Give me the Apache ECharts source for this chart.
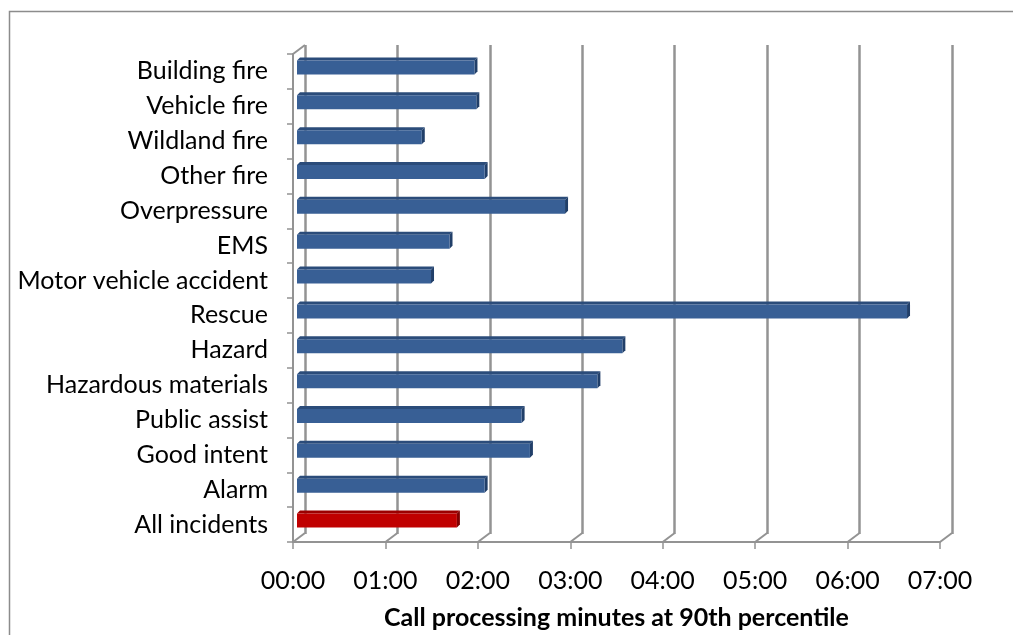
<!DOCTYPE html>
<html>
<head>
<meta charset="utf-8">
<script src="https://cdn.jsdelivr.net/npm/echarts@6/dist/echarts.min.js"></script>
<style>
  html, body { margin: 0; padding: 0; background: #ffffff; }
  #chart { width: 1013px; height: 635px; }
</style>
</head>
<body>
<div id="chart"></div>
<script>
// Incident types, top to bottom
const categories = [
  'Building fire', 'Vehicle fire', 'Wildland fire', 'Other fire', 'Overpressure',
  'EMS', 'Motor vehicle accident', 'Rescue', 'Hazard', 'Hazardous materials',
  'Public assist', 'Good intent', 'Alarm', 'All incidents'
];
// 90th percentile call processing time, in minutes
const minutes = [1.92, 1.94, 1.35, 2.03, 2.90, 1.65, 1.45, 6.60, 3.52, 3.25, 2.43, 2.52, 2.03, 1.73];
// x-axis tick labels (mm:ss)
const tickLabels = ['00:00', '01:00', '02:00', '03:00', '04:00', '05:00', '06:00', '07:00'];
const axisTitle = 'Call processing minutes at 90th percentile';

const FONT = 'Lato, "Open Sans", sans-serif';
const GRID_GRAY = '#939393';
// Depth of the plot box (back wall offset) and of each bar
const DEPTH_X = 12, DEPTH_Y = -9;
const BAR_OFF_X = 4, BAR_OFF_Y = -4, BAR_H = 14, BAR_D = 3;

function barRenderer(front, top, side) {
  return function (params, api) {
    const v = api.value(0), c = api.value(1);
    const p0 = api.coord([0, c]);
    const p1 = api.coord([v, c]);
    const x0 = p0[0] + BAR_OFF_X, x1 = p1[0] + BAR_OFF_X;
    const yT = p0[1] + BAR_OFF_Y - BAR_H / 2, yB = yT + BAR_H;
    return {
      type: 'group',
      children: [
        { type: 'polygon', shape: { points: [[x0, yT], [x1, yT], [x1 + BAR_D, yT - BAR_D], [x0 + BAR_D, yT - BAR_D]] },
          style: { fill: top } },
        { type: 'polygon', shape: { points: [[x1, yT], [x1 + BAR_D, yT - BAR_D], [x1 + BAR_D, yB - BAR_D], [x1, yB]] },
          style: { fill: side } },
        { type: 'rect', shape: { x: x0, y: yT, width: x1 - x0, height: BAR_H },
          style: { fill: front } }
      ]
    };
  };
}

// Floor and wall edges joining the front axes to the back wall
function wallRenderer(params, api) {
  const v = api.value(0);
  const cs = params.coordSys;
  const p = api.coord([v, 0]);
  const yb = cs.y + cs.height;
  const lineStyle = { stroke: GRID_GRAY, lineWidth: 2, fill: null };
  const children = [
    { type: 'line', shape: { x1: p[0], y1: yb, x2: p[0] + DEPTH_X, y2: yb + DEPTH_Y }, style: lineStyle }
  ];
  if (v === 0) {
    children.push({ type: 'line', shape: { x1: cs.x, y1: cs.y, x2: cs.x + DEPTH_X, y2: cs.y + DEPTH_Y }, style: lineStyle });
  }
  return { type: 'group', children: children };
}

const chart = echarts.init(document.getElementById('chart'), null, { renderer: 'canvas' });

const frontGrid = { left: 293, right: 73, top: 54, bottom: 92 };
const backGrid = {
  left: frontGrid.left + DEPTH_X, right: frontGrid.right - DEPTH_X,
  top: frontGrid.top + DEPTH_Y, bottom: frontGrid.bottom - DEPTH_Y
};

chart.setOption({
  animation: false,
  backgroundColor: '#ffffff',
  textStyle: { fontFamily: FONT },
  graphic: [
    { type: 'rect', left: 7, top: 9, shape: { x: 0.5, y: 0.5, width: 1010, height: 640 },
      style: { fill: null, stroke: '#8c8c8c', lineWidth: 1.5 }, silent: true }
  ],
  grid: [
    Object.assign({ containLabel: false }, frontGrid),
    Object.assign({ containLabel: false }, backGrid)
  ],
  xAxis: [
    {
      gridIndex: 0, type: 'value', min: 0, max: 7, interval: 1,
      axisLine: { show: true, lineStyle: { color: GRID_GRAY, width: 2 } },
      axisTick: { show: true, length: 7, lineStyle: { color: GRID_GRAY, width: 1.5 } },
      splitLine: { show: false },
      axisLabel: {
        margin: 26, fontSize: 25, color: '#000', fontFamily: FONT,
        formatter: function (val) { return tickLabels[Math.round(val)]; }
      },
      name: axisTitle, nameLocation: 'middle', nameGap: 63,
      nameTextStyle: { fontSize: 25, fontWeight: 'bold', color: '#000', fontFamily: FONT }
    },
    {
      gridIndex: 1, type: 'value', min: 0, max: 7, interval: 1,
      axisLine: { show: false }, axisTick: { show: false }, axisLabel: { show: false },
      splitLine: { show: true, lineStyle: { color: GRID_GRAY, width: 2.5 } }
    }
  ],
  yAxis: [
    {
      gridIndex: 0, type: 'category', data: categories, inverse: true,
      axisLine: { show: true, lineStyle: { color: GRID_GRAY, width: 2 } },
      axisTick: { show: true, length: 6, lineStyle: { color: GRID_GRAY, width: 1.5 } },
      axisLabel: { margin: 25, fontSize: 25, color: '#000', fontFamily: FONT, padding: [9, 0, 0, 0] },
      splitLine: { show: false }
    },
    {
      gridIndex: 1, type: 'category', data: categories, inverse: true, show: false
    }
  ],
  series: [
    {
      name: 'Walls', type: 'custom', xAxisIndex: 0, yAxisIndex: 0, clip: false, silent: true,
      renderItem: wallRenderer,
      data: tickLabels.map(function (t, i) { return [i, 0]; }),
      encode: { x: 0, y: 1 }, z: 1
    },
    {
      name: 'Incident types', type: 'custom', xAxisIndex: 0, yAxisIndex: 0, clip: false,
      renderItem: barRenderer('#385f95', '#2b4c7a', '#213f69'),
      data: categories.slice(0, 13).map(function (c, i) { return [minutes[i], i]; }),
      encode: { x: 0, y: 1 }, z: 3
    },
    {
      name: 'All incidents', type: 'custom', xAxisIndex: 0, yAxisIndex: 0, clip: false,
      renderItem: barRenderer('#c00000', '#9c0000', '#7f0000'),
      data: [[minutes[13], 13]],
      encode: { x: 0, y: 1 }, z: 3
    }
  ]
});
</script>
</body>
</html>
